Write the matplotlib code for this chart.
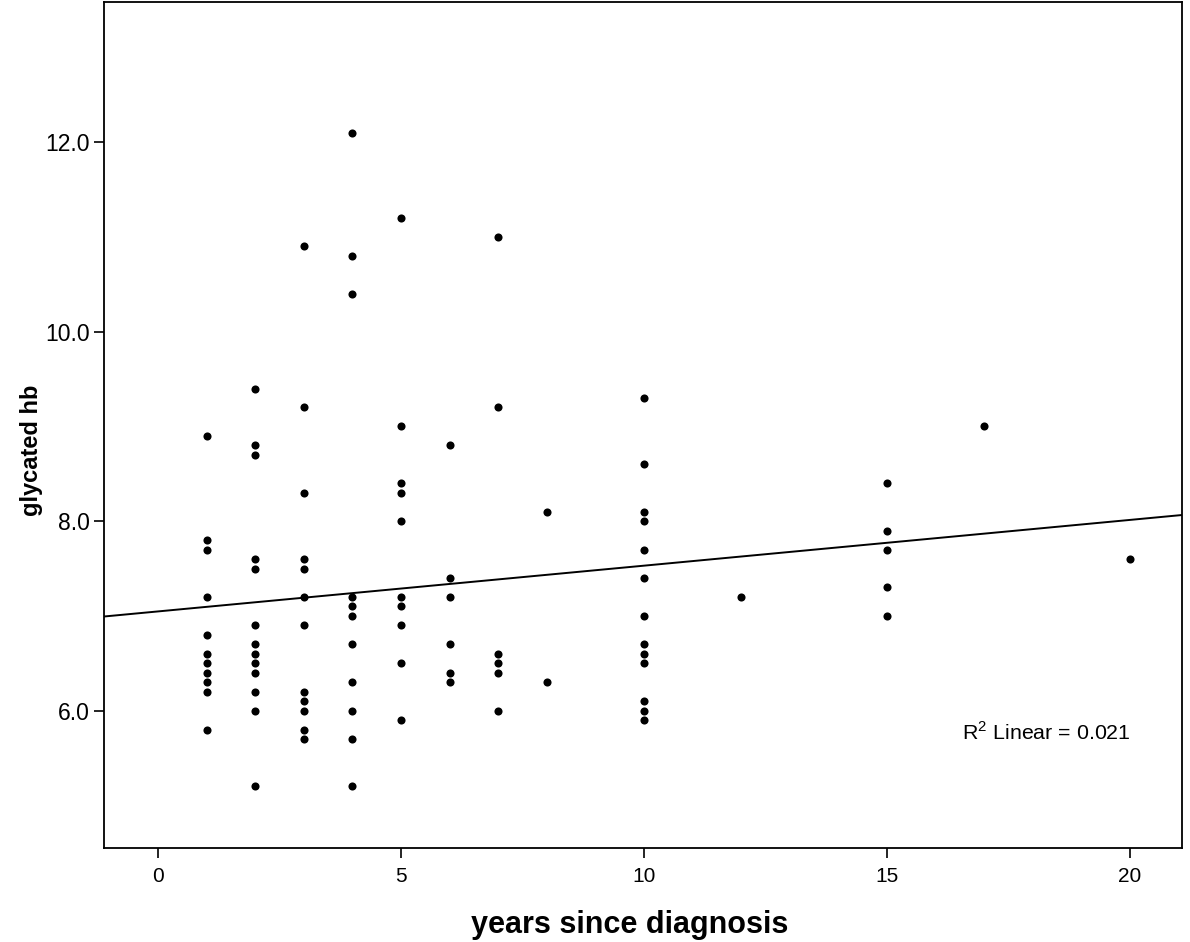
import numpy as np
import matplotlib
matplotlib.use("Agg")
import matplotlib.pyplot as plt

plt.rcParams['font.family'] = ['Liberation Sans', 'DejaVu Sans']
plt.rcParams['mathtext.fontset'] = 'custom'
plt.rcParams['mathtext.rm'] = 'Liberation Sans'

# years since diagnosis -> glycated hb readings
years_1 = [8.9, 7.8, 7.7, 7.2, 6.8, 6.6, 6.5, 6.4, 6.3, 6.2, 5.8]
years_2 = [9.4, 8.8, 8.7, 7.6, 7.5, 6.9, 6.7, 6.6, 6.5, 6.4, 6.2, 6.0, 5.2]
years_3 = [10.9, 9.2, 8.3, 7.6, 7.5, 7.2, 6.9, 6.2, 6.1, 6.0, 5.8, 5.7]
years_4 = [12.1, 10.8, 10.4, 7.2, 7.1, 7.0, 6.7, 6.3, 6.0, 5.7, 5.2]
years_5 = [11.2, 9.0, 8.4, 8.3, 8.0, 7.2, 7.1, 6.9, 6.5, 5.9]
years_6 = [8.8, 7.4, 7.2, 6.7, 6.4, 6.3]
years_7 = [11.0, 9.2, 6.6, 6.5, 6.4, 6.0]
years_8 = [8.1, 6.3]
years_10 = [9.3, 8.6, 8.1, 8.0, 7.7, 7.4, 7.0, 6.7, 6.6, 6.5, 6.1, 6.0, 5.9]
years_12 = [7.2]
years_15 = [8.4, 7.9, 7.7, 7.3, 7.0]
years_17 = [9.0]
years_20 = [7.6]

groups = {1: years_1, 2: years_2, 3: years_3, 4: years_4, 5: years_5,
          6: years_6, 7: years_7, 8: years_8, 10: years_10, 12: years_12,
          15: years_15, 17: years_17, 20: years_20}

# fit line as printed on the chart
fit_intercept = 7.047
fit_slope = 0.0483

x_ticks = [0, 5, 10, 15, 20]
y_ticks = [6.0, 8.0, 10.0, 12.0]
r2_label = r"R$^{\mathregular{2}}$ Linear = 0.021"

x = np.concatenate([[k] * len(v) for k, v in groups.items()]).astype(float)
y = np.concatenate([v for v in groups.values()])

fig = plt.figure(figsize=(11.9, 9.42), dpi=100)
ax = fig.add_axes([0.0874, 0.0998, 0.9059, 0.8981])

ax.scatter(x, y, s=34, color='black', linewidths=0, zorder=3)

xmin, xmax = -1.11, 21.07
xs = np.array([xmin, xmax])
ax.plot(xs, fit_intercept + fit_slope * xs, color='black', linewidth=1.4, zorder=2)

ax.set_xlim(xmin, xmax)
ax.set_ylim(4.55, 13.48)
ax.set_xticks(x_ticks)
ax.set_yticks(y_ticks)
ax.set_yticklabels([f"{t:.1f}" for t in y_ticks])
ax.tick_params(direction='out', length=7, width=1.2)
ax.tick_params(axis='y', labelsize=16.5)
ax.tick_params(axis='x', labelsize=15, pad=7)

for s in ax.spines.values():
    s.set_linewidth(1.3)

ax.set_xlabel("years since diagnosis", fontsize=22, fontweight='bold')
ax.set_ylabel("glycated hb", fontsize=17, fontweight='bold')
ax.xaxis.set_label_coords((630 - 104) / 1078, (848 - 925) / 846)
ax.yaxis.set_label_coords((31 - 104) / 1078, (848 - 450) / 846)
ax.xaxis.label.set_va('center')
ax.yaxis.label.set_va('center')

ax.text(16.54, 5.77, r2_label, fontsize=15.4, va='center', ha='left')

fig.savefig("out.png", dpi=100)
